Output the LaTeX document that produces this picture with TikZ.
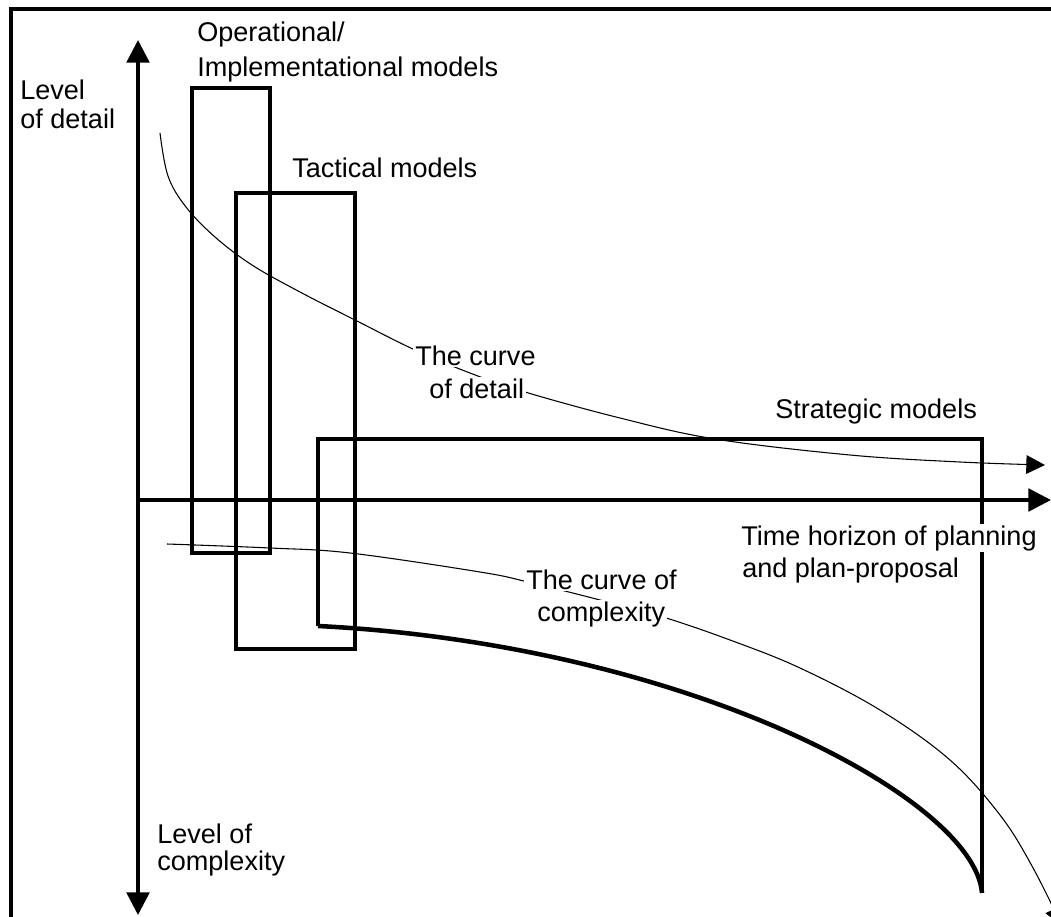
\documentclass[tikz,border=0pt]{standalone}
\usepackage{fontspec}
\setmainfont{Liberation Sans}
\usetikzlibrary{arrows.meta}
\begin{document}
\begin{tikzpicture}[x=0.75pt,y=-0.75pt,
  lbl/.style={anchor=base west,inner sep=0pt,font=\fontsize{20.3}{24}\selectfont},
  clbl/.style={lbl,fill=white,inner xsep=1.5pt,inner ysep=1.2pt},
  frameline/.style={line width=2.6pt},
  axisline/.style={line width=2.6pt},
  bigtip/.style={-{Triangle[length=17pt,width=17pt]}},
  modelbox/.style={draw,line width=2.6pt},
  thincurve/.style={line width=0.8pt},
  thickcurve/.style={line width=3.4pt},
]
\useasboundingbox (0,0) rectangle (1051,917);
\clip (0,0) rectangle (1051,917);

% outer frame (left and top edges)
\coordinate (fbl) at (11,917);
\coordinate (ftl) at (11,9);
\coordinate (ftr) at (1051,9);
\draw[frameline] (fbl) -- (ftl) -- (ftr);

% axes
\coordinate (vtop) at (138,40);
\coordinate (vbot) at (138,915);
\coordinate (horig) at (138,500);
\coordinate (hend) at (1051,500);
\draw[axisline,{Triangle[length=17pt,width=17pt]}-{Triangle[length=17pt,width=17pt]}] (vtop) -- (vbot);
\draw[axisline,bigtip] (horig) -- (hend);

% model boxes
\draw[modelbox] (192,88) rectangle (270,553);
\draw[modelbox] (236,193) rectangle (355,649);
\coordinate (sbl) at (318,626);
\coordinate (stl) at (318,439);
\coordinate (str) at (982,439);
\coordinate (sbr) at (982,893);
\draw[modelbox] (sbl) -- (stl) -- (str) -- (sbr);
\draw[thickcurve] (sbl) .. controls (690,645) and (975,800) .. (sbr);

% curve of detail
\draw[thincurve,-{Triangle[length=14pt,width=14pt]}] plot[smooth,tension=0.6] coordinates
  {(160,133) (168,176) (186,207) (215,237) (252,265) (300,292) (355,320) (415,350)
   (470,373) (525,392) (620,418) (715,439) (850,455) (960,462) (1045,465)};

% curve of complexity
\draw[thincurve,-{Triangle[length=14pt,width=14pt]}] plot[smooth,tension=0.6] coordinates
  {(167,544) (270,548) (350,553) (480,572) (528,582) (600,600) (663,617) (730,640)
   (800,668) (880,710) (950,760) (1000,815) (1032,866) (1062,926)};

% labels
\node[lbl] (op1) at (197,42) {Operational/};
\node[lbl] (op2) at (197,77) {Implementational models};
\node[lbl] (ld1) at (20,100) {Level};
\node[lbl] (ld2) at (20,128) {of detail};
\node[lbl] (tac) at (292,177) {Tactical models};
\node[lbl] (stm) at (775,418) {Strategic models};
\node[clbl] (th1) at (739,545) {Time horizon of planning};
\node[lbl] (th2) at (742,577) {and plan-proposal};
\node[lbl] (lc1) at (157,843) {Level of};
\node[lbl] (lc2) at (157,870) {complexity};
\node[clbl] (cd1) at (413,365) {The curve};
\node[clbl] (cd2) at (427,398) {of detail};
\node[clbl] (cc1) at (524,589) {The curve of};
\node[clbl] (cc2) at (535,621) {complexity};
\end{tikzpicture}
\end{document}
